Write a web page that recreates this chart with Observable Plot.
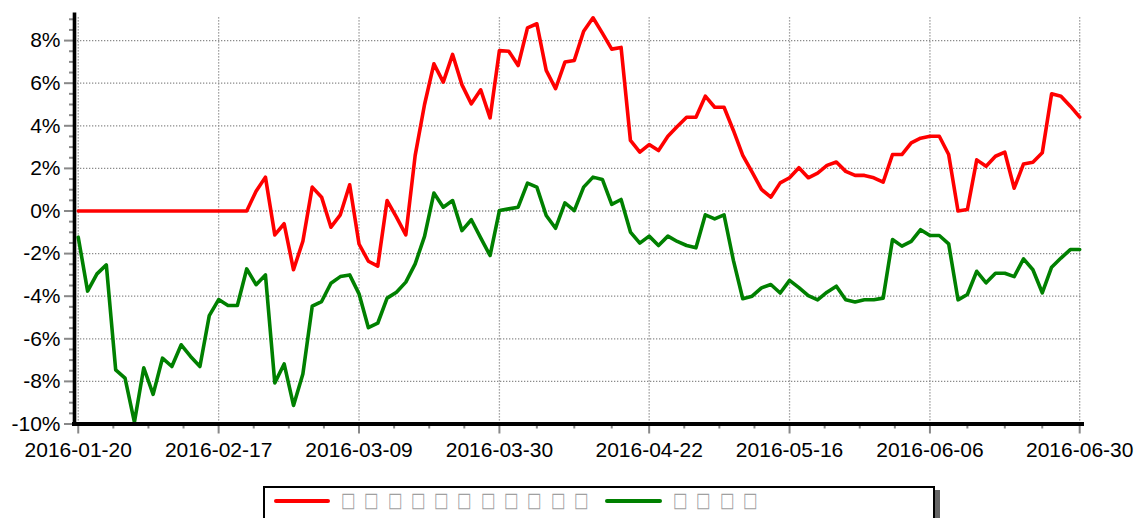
<!DOCTYPE html>
<html>
<head>
<meta charset="utf-8">
<script src="https://cdn.jsdelivr.net/npm/d3@7"></script>
<script src="https://cdn.jsdelivr.net/npm/@observablehq/plot@0.6"></script>
<style>
  html, body { margin: 0; padding: 0; background: #fff; }
  #wrap { position: relative; width: 1135px; height: 518px; overflow: hidden; font-family: "Liberation Sans", Arial, sans-serif; }
  #legend { position: absolute; left: 263px; top: 486px; width: 668px; height: 44px; border: 2px solid #000; box-shadow: 5px 4px 0 #666; background: #fff; }
  .sw { position: absolute; height: 4px; border-radius: 2px; top: 11px; }
  .lab { position: absolute; top: 2px; white-space: nowrap; font-family: "DejaVu Sans"; font-size: 16px; color: #a0a0a0; line-height: 20px; }
  .lab span { display: inline-block; width: 23.3px; transform: scale(0.95, 1.3); transform-origin: 0 50%; }
</style>
</head>
<body>
<div id="wrap">
  <div id="chart"></div>
  <div id="legend"></div>
</div>
<script>
// ---- data ----
const tickIdx = [0, 15, 30, 45, 61, 76, 91, 107];
const tickLabels = ["2016-01-20", "2016-02-17", "2016-03-09", "2016-03-30", "2016-04-22", "2016-05-16", "2016-06-06", "2016-06-30"];
const yTicks = [-10, -8, -6, -4, -2, 0, 2, 4, 6, 8];
const seriesNames = ["□□□□□□□□□□□", "□□□□"];
const seriesColors = ["#ff0000", "#008000"];

const redSeries = [
  0, 0, 0, 0, 0, 0, 0, 0, 0, 0, 0, 0, 0, 0, 0, 0, 0, 0, 0,
  0.93, 1.59, -1.12, -0.60, -2.76, -1.42, 1.12, 0.65, -0.76, -0.18, 1.23,
  -1.55, -2.36, -2.59, 0.49, -0.29, -1.12, 2.61, 5.00, 6.91, 6.05,
  7.35, 5.92, 5.03, 5.69, 4.37, 7.53, 7.50, 6.83, 8.60, 8.79,
  6.60, 5.74, 6.99, 7.07, 8.44, 9.07, 8.35, 7.60, 7.68, 3.31,
  2.76, 3.12, 2.84, 3.51, 3.97, 4.40, 4.40, 5.39, 4.87, 4.87,
  3.78, 2.61, 1.82, 1.01, 0.65, 1.32, 1.56, 2.03, 1.56, 1.78,
  2.14, 2.30, 1.86, 1.67, 1.67, 1.56, 1.35, 2.65, 2.65, 3.20,
  3.42, 3.51, 3.51, 2.65, 0.00, 0.07, 2.40, 2.10, 2.57, 2.76,
  1.07, 2.21, 2.29, 2.73, 5.50, 5.39, 4.92, 4.41
];
const greenSeries = [
  -1.23, -3.76, -2.95, -2.53, -7.46, -7.85, -9.91, -7.36, -8.61, -6.91,
  -7.30, -6.28, -6.83, -7.30, -4.91, -4.16, -4.44, -4.44, -2.72, -3.46,
  -3.00, -8.07, -7.18, -9.13, -7.65, -4.47, -4.25, -3.39, -3.08, -3.00,
  -3.89, -5.48, -5.27, -4.09, -3.81, -3.34, -2.48, -1.19, 0.84, 0.18,
  0.49, -0.92, -0.41, -1.26, -2.09, 0.02, 0.10, 0.18, 1.31, 1.12,
  -0.21, -0.81, 0.38, 0.02, 1.12, 1.59, 1.48, 0.31, 0.54, -0.99,
  -1.51, -1.18, -1.62, -1.18, -1.43, -1.62, -1.73, -0.18, -0.37, -0.18,
  -2.32, -4.12, -4.00, -3.61, -3.45, -3.85, -3.26, -3.60, -3.97, -4.17,
  -3.81, -3.53, -4.17, -4.27, -4.17, -4.17, -4.09, -1.34, -1.65, -1.43,
  -0.88, -1.15, -1.15, -1.54, -4.17, -3.92, -2.83, -3.37, -2.92, -2.92,
  -3.08, -2.25, -2.76, -3.84, -2.64, -2.21, -1.81, -1.81
];

// ---- derived tables ----
const redData = redSeries.map((v, i) => ({i, v}));
const greenData = greenSeries.map((v, i) => ({i, v}));
const yMinor = d3.range(-10, 9.3, 0.5).filter(d => !yTicks.includes(d));
const xMinor = [];
for (let k = 0; k < tickIdx.length - 1; k++) {
  const a = tickIdx[k], b = tickIdx[k + 1];
  for (let q = 1; q < 4; q++) xMinor.push(a + (b - a) * q / 4);
}

const grid = {stroke: "#8a8a8a", strokeWidth: 1.3, strokeDasharray: "1.3,1.7"};

const chart = Plot.plot({
  width: 1135,
  height: 480,
  marginLeft: 74,
  marginRight: 53,
  marginTop: 12.4,
  marginBottom: 56.5,
  x: {domain: [-0.4, 107.3], label: null},
  y: {domain: [-10, 9.3], label: null},
  style: {fontFamily: "'Liberation Sans', Arial, sans-serif", fontSize: "21px", color: "#000", background: "#fff", overflow: "visible"},
  marks: [
    Plot.ruleY(yTicks.filter(d => d > -10), grid),
    Plot.ruleX(tickIdx, {...grid, y1: -10, y2: 9.15}),
    Plot.axisY({ticks: yMinor, tickSize: 5, tickFormat: () => "", stroke: "#888", strokeWidth: 2, label: null}),
    Plot.axisY({ticks: yTicks, tickSize: 10, tickPadding: 4, tickFormat: d => d + "%", stroke: "#888", strokeWidth: 2, fontSize: 21, label: null}),
    Plot.axisX({ticks: xMinor, tickSize: 5, tickFormat: () => "", stroke: "#888", strokeWidth: 2, label: null}),
    Plot.axisX({ticks: tickIdx, tickSize: 10, tickPadding: 8, tickFormat: d => tickLabels[tickIdx.indexOf(d)], stroke: "#888", strokeWidth: 2, fontSize: 21, label: null}),
    Plot.line(greenData, {x: "i", y: "v", stroke: seriesColors[1], strokeWidth: 3.6}),
    Plot.line(redData, {x: "i", y: "v", stroke: seriesColors[0], strokeWidth: 3.6}),
    Plot.ruleX([-0.4], {stroke: "#000", strokeWidth: 3.6}),
    Plot.ruleY([-10], {stroke: "#000", strokeWidth: 4, strokeLinecap: "square"})
  ]
});
document.getElementById("chart").appendChild(chart);

// ---- legend ----
const legend = document.getElementById("legend");
const items = [
  {sw: 9, w: 56, lab: 76},
  {sw: 340, w: 57, lab: 408}
];
seriesNames.forEach((name, k) => {
  const sw = document.createElement("div");
  sw.className = "sw";
  sw.style.left = items[k].sw + "px";
  sw.style.width = items[k].w + "px";
  sw.style.background = seriesColors[k];
  legend.appendChild(sw);
  const lab = document.createElement("div");
  lab.className = "lab";
  lab.style.left = items[k].lab + "px";
  for (const ch of name) {
    const s = document.createElement("span");
    s.textContent = ch;
    lab.appendChild(s);
  }
  legend.appendChild(lab);
});
</script>
</body>
</html>
